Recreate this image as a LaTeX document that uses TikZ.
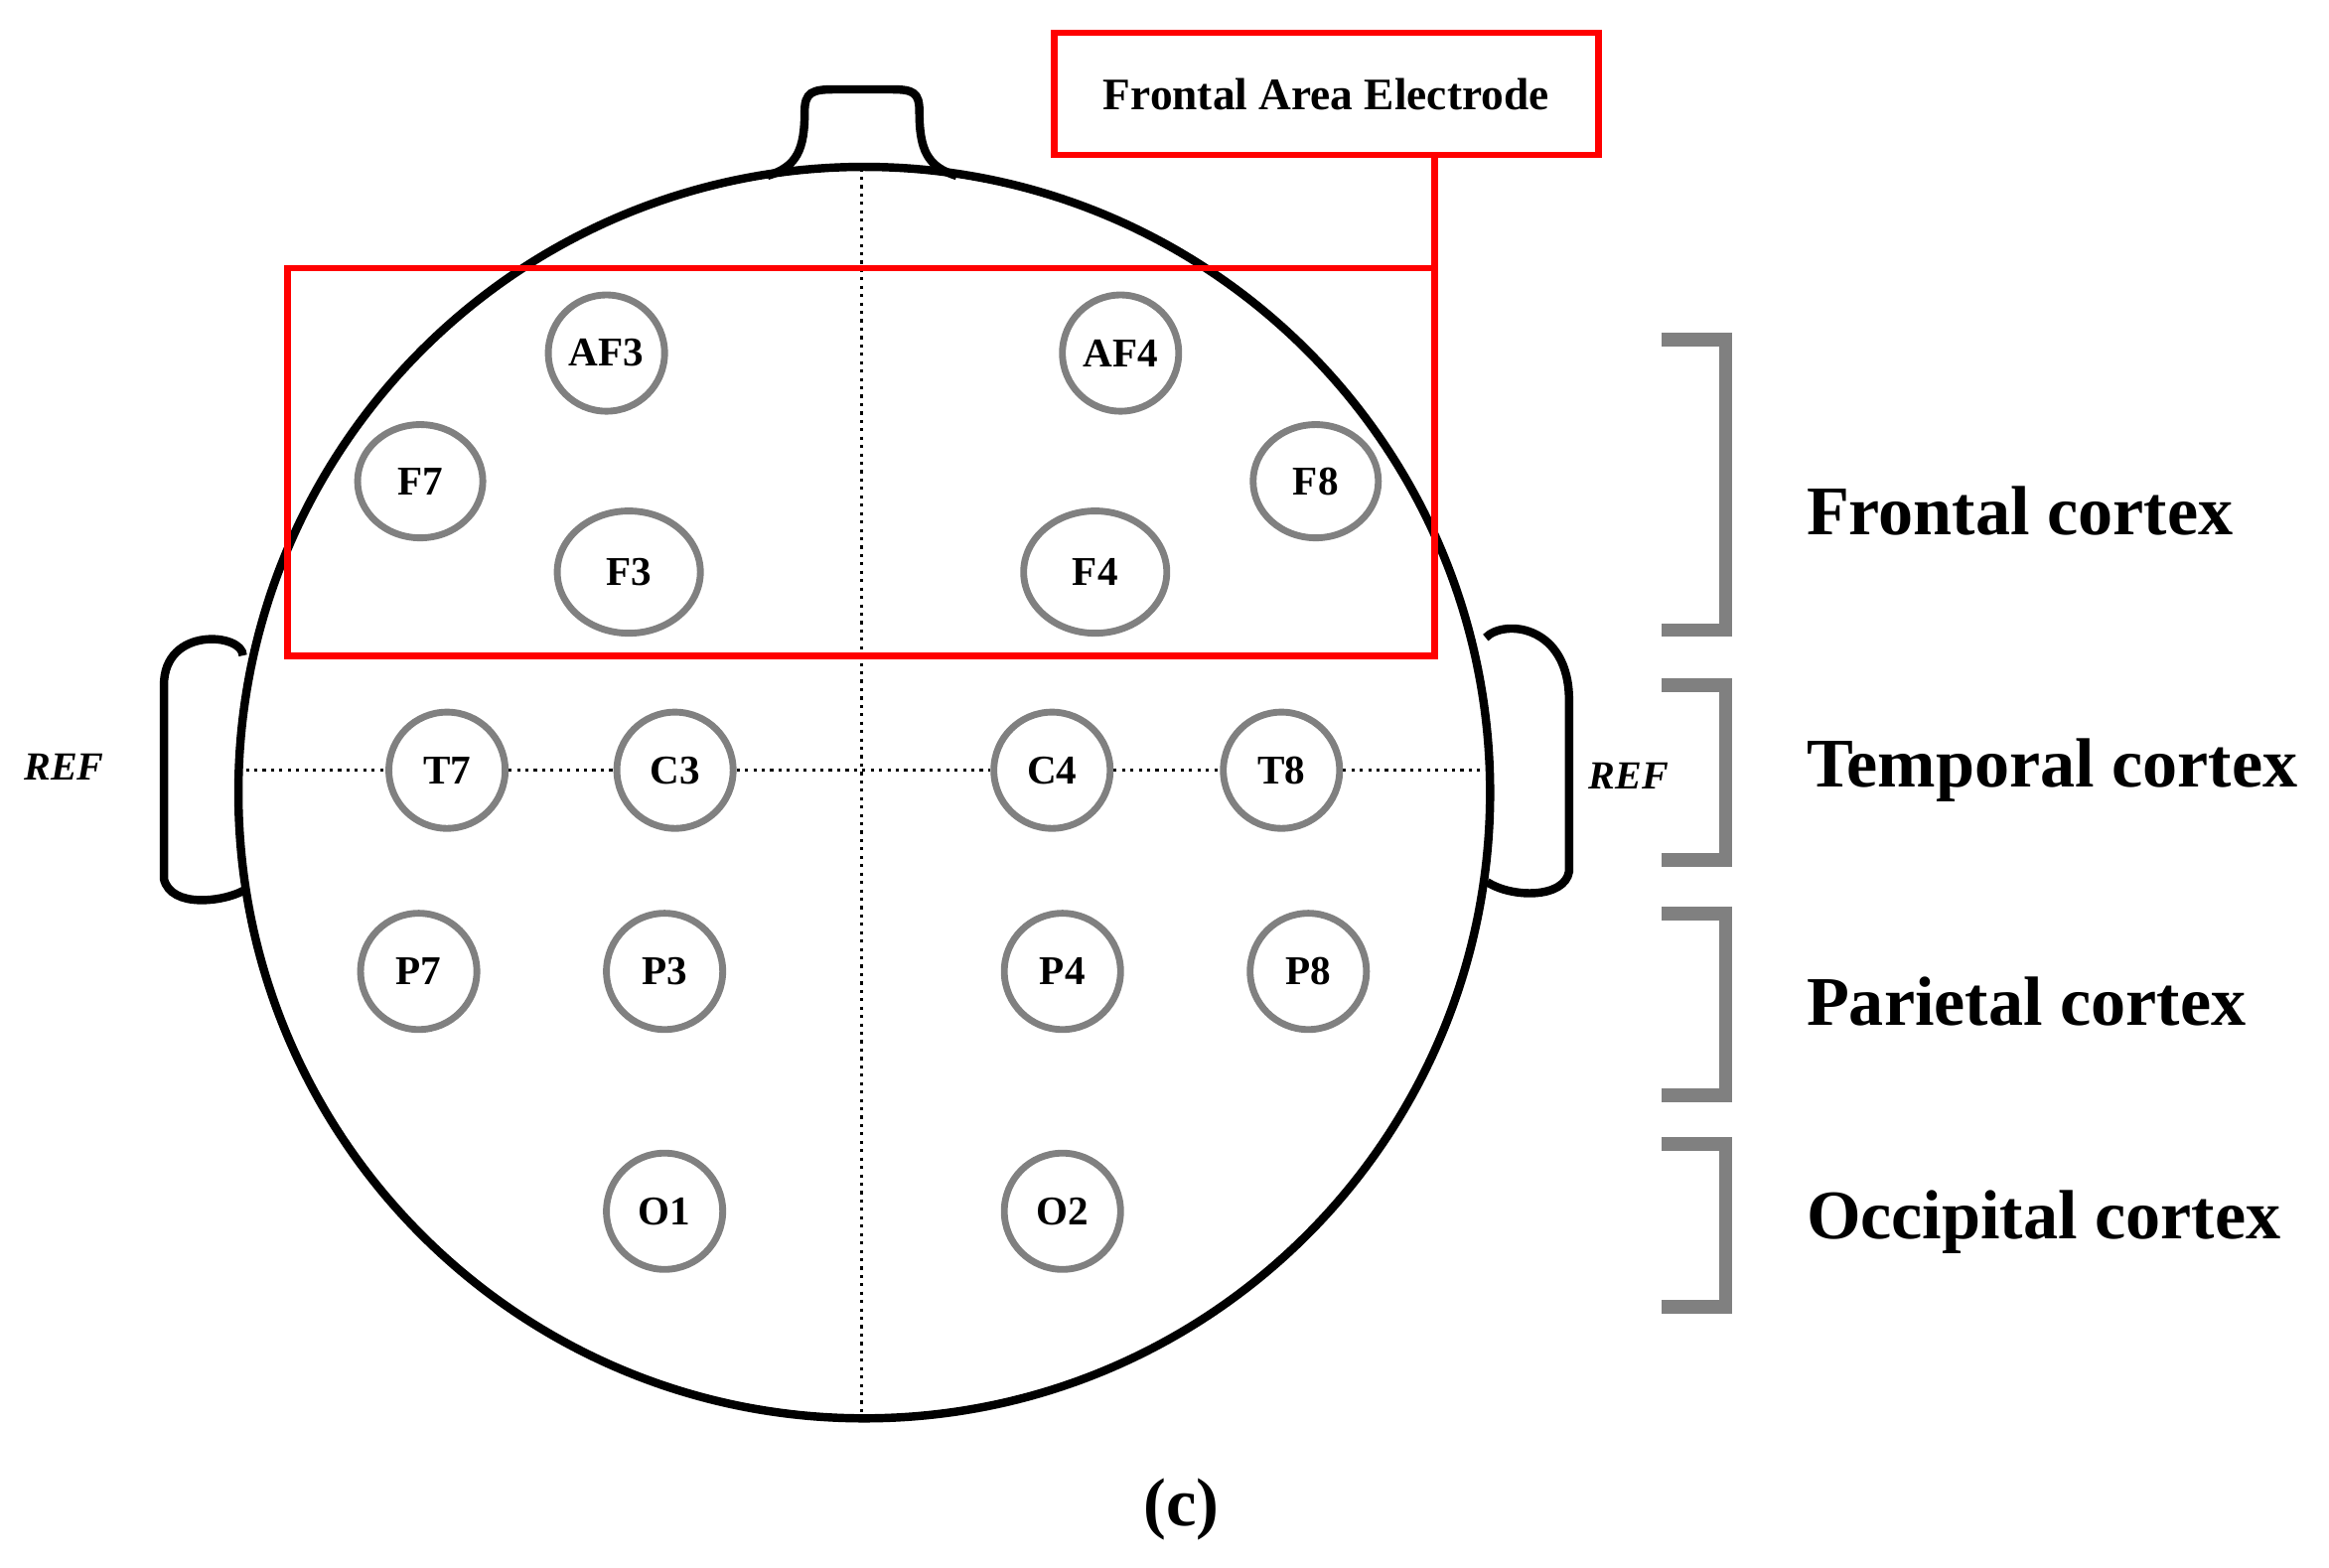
\documentclass[tikz,border=0pt]{standalone}
\usepackage{fontspec}
\setmainfont{Liberation Serif}
\usetikzlibrary{positioning, shapes.geometric}

\begin{document}
\begin{tikzpicture}
        [x=0.01cm, y=-0.01cm,
         elec/.style={ellipse, draw=gray, line width=1.3pt, minimum width=0.78cm, minimum height=0.78cm, inner sep=0pt, font=\fontsize{7.8}{9}\selectfont\bfseries},
         region/.style={anchor=west, font=\fontsize{13.3}{16}\selectfont\bfseries},
         brk/.style={draw=gray, line width=2.6pt},
         dots/.style={densely dotted, line width=0.6pt}]
        \useasboundingbox (0,0) rectangle (1563,1052);
        % head
        \draw[line width=1.6pt] (580,532) circle (420);
        \draw[line width=1.6pt] (515,118) .. controls (535,112) and (540,100) .. (540,75)
            .. controls (540,62) and (545,60) .. (560,60) -- (598,60)
            .. controls (613,60) and (617,62) .. (617,75)
            .. controls (617,100) and (622,112) .. (642,118);
        \draw[line width=1.6pt] (163,440) .. controls (163,425) and (110,420) .. (110,460)
            -- (110,590) .. controls (115,610) and (150,605) .. (163,598);
        \draw[line width=1.6pt] (997,428) .. controls (1010,415) and (1053,420) .. (1053,470)
            -- (1053,585) .. controls (1050,603) and (1015,603) .. (998,592);
        \coordinate (top) at (578,113);
        \coordinate (bot) at (578,950);
        \coordinate (lft) at (165,517);
        \coordinate (rgt) at (1000,517);
        \draw[dots] (top) -- (bot);

        % electrodes
        \node[elec] (AF3) at (407,237) {AF3};
        \node[elec] (AF4) at (752,237) {AF4};
        \node[elec, minimum width=0.84cm, minimum height=0.76cm] (F7) at (282,323) {F7};
        \node[elec, minimum width=0.84cm, minimum height=0.76cm] (F8) at (883,323) {F8};
        \node[elec, minimum width=0.96cm, minimum height=0.82cm] (F3) at (422,384) {F3};
        \node[elec, minimum width=0.96cm, minimum height=0.82cm] (F4) at (735,384) {F4};
        \foreach \n/\x/\y in {T7/300/517, C3/453/517, C4/706/517, T8/860/517,
                              P7/281/652, P3/446/652, P4/713/652, P8/878/652,
                              O1/446/813, O2/713/813}
            \node[elec] (\n) at (\x,\y) {\n};
        \draw[dots] (lft) -- (T7) -- (C3) -- (C4) -- (T8) -- (rgt);

        % frontal area box
        \draw[red, line width=1.3pt] (193,180) rectangle (963,440);
        \node[draw=red, line width=1.3pt, minimum width=3.65cm, minimum height=0.82cm,
              font=\fontsize{8.6}{11}\selectfont\bfseries] (fae) at (890,63) {Frontal Area Electrode};
        \coordinate (fbox) at (963,180);
        \draw[red, line width=1.3pt] (fbox) -- (fbox |- fae.south);

        \node[font=\fontsize{7.6}{10}\selectfont\bfseries\itshape] (refl) at (43,515) {REF};
        \node[font=\fontsize{7.6}{10}\selectfont\bfseries\itshape] (refr) at (1093,521) {REF};

        % brackets
        \foreach \a/\b in {228/423, 460/577, 613/735, 768/877}
            \draw[brk] (1115,\a) -- (1158,\a) -- (1158,\b) -- (1115,\b);
        \node[region] (fc) at (1200,343) {Frontal cortex};
        \node[region] (tc) at (1200,517) {Temporal cortex};
        \node[region] (pc) at (1200,672) {Parietal cortex};
        \node[region] (oc) at (1200,820) {Occipital cortex};

        \node[font=\fontsize{13}{15}\selectfont\bfseries] (cap) at (793,1013) {(c)};
\end{tikzpicture}
\end{document}
